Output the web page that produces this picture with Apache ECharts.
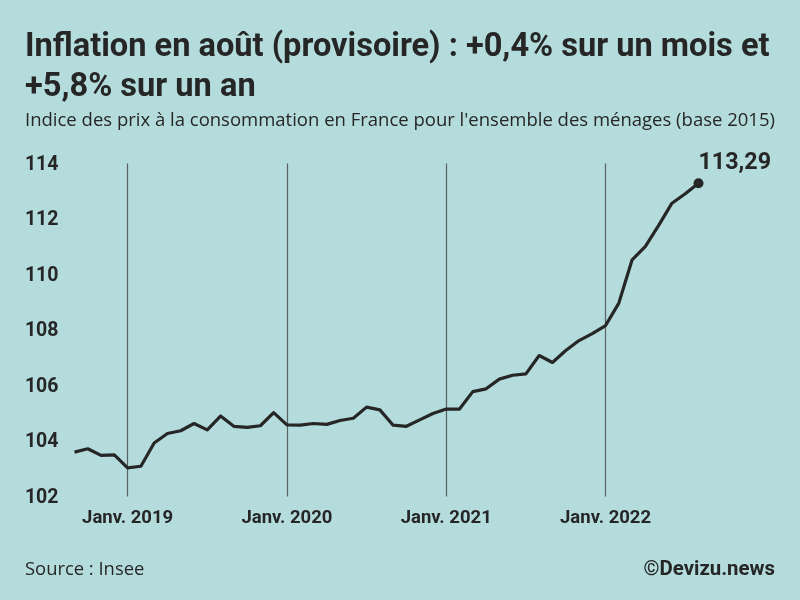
<!DOCTYPE html>
<html>
<head>
<meta charset="utf-8">
<style>
html, body { margin: 0; padding: 0; background: #b5dcdd; }
#chart { width: 800px; height: 600px; }
</style>
<script src="https://cdn.jsdelivr.net/npm/echarts@6/dist/echarts.min.js"></script>
</head>
<body>
<div id="chart"></div>
<script>
var months = [
	'2018-09','2018-10','2018-11','2018-12',
	'2019-01','2019-02','2019-03','2019-04','2019-05','2019-06','2019-07','2019-08','2019-09','2019-10','2019-11','2019-12',
	'2020-01','2020-02','2020-03','2020-04','2020-05','2020-06','2020-07','2020-08','2020-09','2020-10','2020-11','2020-12',
	'2021-01','2021-02','2021-03','2021-04','2021-05','2021-06','2021-07','2021-08','2021-09','2021-10','2021-11','2021-12',
	'2022-01','2022-02','2022-03','2022-04','2022-05','2022-06','2022-07','2022-08'
];
var ipc = [
	103.60,103.72,103.48,103.50,
	103.03,103.09,103.93,104.27,104.37,104.63,104.40,104.90,104.53,104.49,104.55,105.02,
	104.58,104.57,104.63,104.60,104.74,104.82,105.22,105.12,104.57,104.53,104.76,104.99,
	105.15,105.15,105.78,105.88,106.23,106.37,106.42,107.08,106.83,107.26,107.62,107.87,
	108.16,108.97,110.53,111.01,111.77,112.57,112.91,113.29
];
var yTicks = { min: 102, max: 114, interval: 2 };

var ink = '#262626';
var titleText = 'Inflation en août (provisoire) : +0,4% sur un mois et\n+5,8% sur un an';
var subtitleText = "Indice des prix à la consommation en France pour l'ensemble des ménages (base 2015)";

function isJanuary(index) {
	return months[index].slice(5) === '01';
}

var chart = echarts.init(document.getElementById('chart'), null, { renderer: 'canvas' });

var seriesData = ipc.map(function (v, i) {
	if (i !== ipc.length - 1) return v;
	return {
		value: v,
		symbol: 'circle',
		symbolSize: 10,
		label: {
			show: true,
			position: 'right',
			offset: [-10, -20],
			formatter: function (p) { return String(p.value).replace('.', ','); },
			color: ink,
			fontFamily: 'Roboto',
			fontWeight: 'bold',
			fontSize: 23.3
		}
	};
});

chart.setOption({
	animation: false,
	backgroundColor: '#b5dcdd',
	title: [
		{
			text: titleText,
			left: 20, top: 23,
			textStyle: { color: ink, fontFamily: 'Roboto', fontWeight: 'bold', fontSize: 32.6, lineHeight: 40 }
		},
		{
			text: subtitleText,
			left: 20, top: 106,
			textStyle: { color: ink, fontFamily: 'Open Sans', fontWeight: 'normal', fontSize: 18.5 }
		},
		{
			text: 'Source : Insee',
			left: 20, top: 556,
			textStyle: { color: ink, fontFamily: 'Open Sans', fontWeight: 'normal', fontSize: 18.4 }
		},
		{
			text: '©Devizu.news',
			right: 20, top: 555,
			textStyle: { color: ink, fontFamily: 'Roboto', fontWeight: 'bold', fontSize: 20.4 }
		}
	],
	grid: { left: 74.5, right: 101.5, top: 163.5, bottom: 103.5, containLabel: false },
	xAxis: {
		type: 'category',
		boundaryGap: false,
		data: months,
		axisLine: { show: false },
		axisTick: { show: false },
		axisLabel: {
			interval: function (i) { return isJanuary(i); },
			formatter: function (v) { return 'Janv. ' + v.slice(0, 4); },
			color: ink,
			fontFamily: 'Roboto',
			fontWeight: 'bold',
			fontSize: 18.5,
			margin: 12
		},
		splitLine: {
			show: true,
			interval: function (i) { return isJanuary(i); },
			lineStyle: { color: '#56625f', width: 1.2 }
		}
	},
	yAxis: {
		type: 'value',
		min: yTicks.min,
		max: yTicks.max,
		interval: yTicks.interval,
		axisLine: { show: false },
		axisTick: { show: false },
		splitLine: { show: false },
		axisLabel: {
			color: ink,
			fontFamily: 'Roboto',
			fontWeight: 'bold',
			fontSize: 19.5,
			margin: 16,
			verticalAlign: 'top',
			lineHeight: 3
		}
	},
	series: [{
		type: 'line',
		data: seriesData,
		showSymbol: true,
		symbol: 'none',
		smooth: false,
		clip: false,
		lineStyle: { color: ink, width: 3.2, join: 'round' },
		itemStyle: { color: ink }
	}]
});
</script>
</body>
</html>
